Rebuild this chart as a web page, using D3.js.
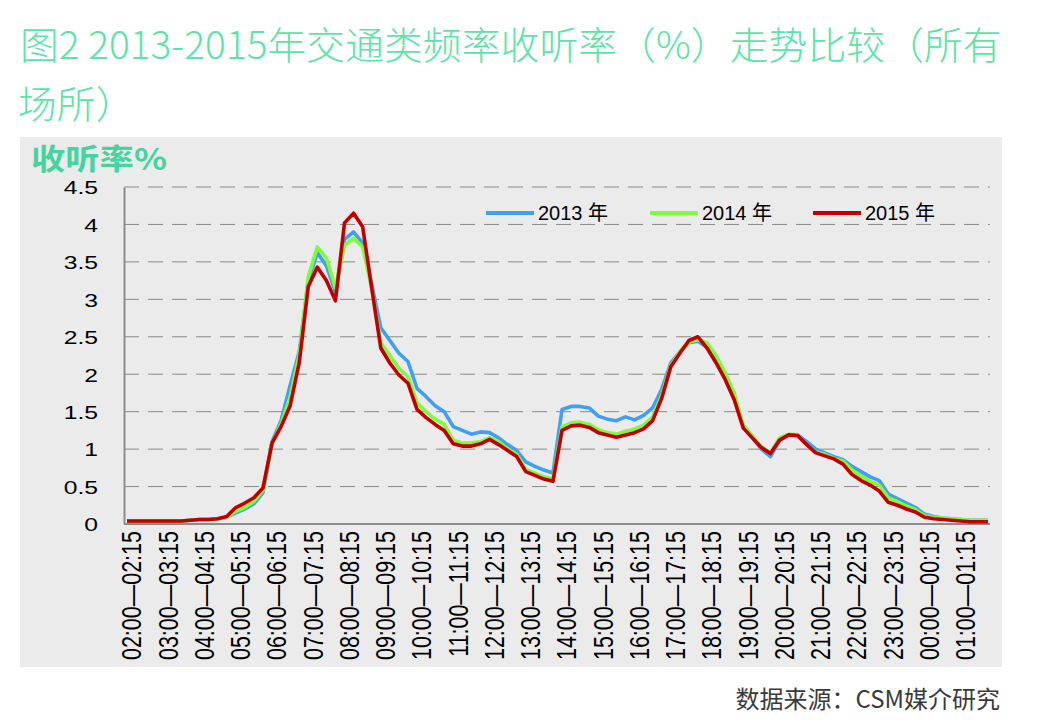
<!DOCTYPE html>
<html>
<head>
<meta charset="utf-8">
<script src="https://cdn.jsdelivr.net/npm/d3@7"></script>
<style>
  body { margin: 0; background: #fff; }
  svg { display: block; }
</style>
</head>
<body>
<script>
// hourly tick labels on the x axis
var tickLabels = ["02:00—02:15","03:00—03:15","04:00—04:15","05:00—05:15","06:00—06:15",
  "07:00—07:15","08:00—08:15","09:00—09:15","10:00—10:15","11:00—11:15","12:00—12:15",
  "13:00—13:15","14:00—14:15","15:00—15:15","16:00—16:15","17:00—17:15","18:00—18:15",
  "19:00—19:15","20:00—20:15","21:00—21:15","22:00—22:15","23:00—23:15","00:00—00:15",
  "01:00—01:15"];

// quarter-hour slots 02:00 ... 01:45
var hours = [2,3,4,5,6,7,8,9,10,11,12,13,14,15,16,17,18,19,20,21,22,23,0,1];
var quarters = ["00","15","30","45"];
var categories = [];
hours.forEach(function(h) {
  quarters.forEach(function(q) {
    categories.push((h < 10 ? "0" + h : "" + h) + ":" + q);
  });
});

var yTicks = [0, 0.5, 1, 1.5, 2, 2.5, 3, 3.5, 4, 4.5];

var seriesNames = ["2013 年", "2014 年", "2015 年"];
var seriesColors = ["#3f9ff2", "#80fb38", "#c00000"];

var v2013 = [
  0.04,0.04,0.04,0.04, 0.04,0.04,0.04,0.05, 0.06,0.06,0.07,0.09,
  0.15,0.20,0.27,0.42, 1.10,1.38,1.85,2.30, 3.25,3.62,3.45,3.10,
  3.80,3.90,3.75,3.20, 2.62,2.45,2.28,2.17, 1.81,1.70,1.58,1.50,
  1.30,1.25,1.20,1.23, 1.22,1.15,1.06,0.98, 0.83,0.77,0.72,0.68,
  1.53,1.57,1.57,1.55, 1.44,1.40,1.38,1.43, 1.39,1.45,1.55,1.80,
  2.15,2.30,2.42,2.44, 2.36,2.18,1.95,1.68, 1.30,1.15,1.00,0.90,
  1.12,1.19,1.19,1.10, 1.00,0.95,0.90,0.86, 0.77,0.70,0.63,0.58,
  0.40,0.34,0.28,0.22, 0.13,0.10,0.08,0.07, 0.06,0.05,0.05,0.05];

var v2014 = [
  0.04,0.04,0.04,0.04, 0.04,0.04,0.04,0.05, 0.06,0.06,0.07,0.09,
  0.17,0.22,0.30,0.45, 1.08,1.33,1.70,2.25, 3.30,3.70,3.55,3.15,
  3.72,3.82,3.70,3.15, 2.42,2.25,2.08,1.97, 1.62,1.50,1.40,1.33,
  1.12,1.08,1.08,1.10, 1.15,1.10,1.00,0.93, 0.73,0.68,0.63,0.60,
  1.30,1.35,1.36,1.33, 1.26,1.22,1.20,1.24, 1.27,1.32,1.43,1.72,
  2.12,2.30,2.43,2.46, 2.42,2.25,2.02,1.75, 1.32,1.18,1.03,0.95,
  1.15,1.20,1.19,1.06, 0.96,0.93,0.88,0.84, 0.72,0.64,0.57,0.52,
  0.35,0.30,0.24,0.19, 0.11,0.09,0.08,0.07, 0.06,0.05,0.05,0.05];

var v2015 = [
  0.04,0.04,0.04,0.04, 0.04,0.04,0.04,0.05, 0.06,0.06,0.07,0.10,
  0.22,0.28,0.35,0.48, 1.08,1.30,1.58,2.15, 3.17,3.43,3.25,2.98,
  4.02,4.15,3.97,3.15, 2.35,2.15,1.99,1.88, 1.53,1.42,1.33,1.25,
  1.07,1.04,1.04,1.07, 1.13,1.06,0.98,0.90, 0.70,0.65,0.60,0.57,
  1.25,1.31,1.32,1.29, 1.22,1.19,1.16,1.19, 1.22,1.27,1.38,1.68,
  2.10,2.28,2.45,2.50, 2.35,2.15,1.93,1.66, 1.28,1.15,1.02,0.94,
  1.12,1.19,1.18,1.06, 0.95,0.91,0.87,0.80, 0.66,0.58,0.52,0.44,
  0.29,0.25,0.20,0.16, 0.09,0.07,0.06,0.05, 0.04,0.03,0.03,0.03];

var seriesValues = [v2013, v2014, v2015];

var W = 1052, H = 728;
var plot = {left: 124, right: 990, top: 187, bottom: 524};
var cjk = "'Noto Sans CJK SC', 'Noto Sans', sans-serif";
var latin = "'Liberation Sans', Arial, 'Noto Sans CJK SC', sans-serif";

var svg = d3.select("body").append("svg")
    .attr("width", W)
    .attr("height", H);

// title, squeezed to the page width like the original
var titleG = svg.append("g").attr("font-family", cjk).attr("font-weight", 300)
    .attr("font-size", 38).attr("fill", "#5ce4a6");
var t1 = titleG.append("text").text("图2 2013-2015年交通类频率收听率（%）走势比较（所有");
var t2 = titleG.append("text").text("场所）");
var sx = 982 / t1.node().getComputedTextLength();
t1.attr("transform", "translate(20,59) scale(" + sx + ",1)");
t2.attr("transform", "translate(18,118) scale(" + sx + ",1)");

// grey chart panel
svg.append("rect")
    .attr("x", 20).attr("y", 137)
    .attr("width", 982).attr("height", 530)
    .attr("fill", "#ebebeb");

// y axis caption
var cap = svg.append("text")
    .attr("font-family", cjk).attr("font-weight", "bold")
    .attr("font-size", 29).attr("fill", "#45d4a0")
    .text("收听率%");
var capScale = 136 / cap.node().getComputedTextLength();
cap.attr("transform", "translate(31,170) scale(" + capScale + ",1)");

// scales
var x = d3.scalePoint()
    .domain(categories)
    .range([127, 988]);

var y = d3.scaleLinear()
    .domain([0, 4.5])
    .range([plot.bottom, plot.top]);

// dashed gridlines
svg.append("g").selectAll("line")
    .data(yTicks.filter(function(d) { return d > 0; }))
    .enter().append("line")
    .attr("x1", plot.left).attr("x2", plot.right)
    .attr("y1", function(d) { return y(d); })
    .attr("y2", function(d) { return y(d); })
    .attr("stroke", "#8a8a8a")
    .attr("stroke-width", 1)
    .attr("stroke-dasharray", "15,9");

// y axis
var yAxis = svg.append("g")
    .attr("transform", "translate(" + plot.left + ",0)")
    .call(d3.axisLeft(y).tickValues(yTicks).tickSize(0)
      .tickFormat(function(d) { return String(d); }));
yAxis.select(".domain").attr("stroke", "#8c8c8c").attr("stroke-width", 2);
yAxis.selectAll("text")
    .attr("x", null).attr("dy", "0.36em")
    .attr("font-family", latin).attr("font-size", 19).attr("fill", "#000")
    .attr("transform", "translate(-26,0) scale(1.3,1)");

// x axis
var xAxis = svg.append("g")
    .attr("transform", "translate(0," + plot.bottom + ")")
    .call(d3.axisBottom(x)
      .tickValues(categories.filter(function(d, i) { return i % 4 === 0; }))
      .tickSize(0)
      .tickFormat(function(d, i) { return tickLabels[i]; }));
xAxis.select(".domain").attr("d", "M" + plot.left + ",0H" + plot.right)
    .attr("stroke", "#8c8c8c").attr("stroke-width", 2);
xAxis.selectAll("text")
    .attr("y", null).attr("dy", "0.35em")
    .attr("text-anchor", "end")
    .attr("font-family", latin).attr("font-size", 21.5).attr("fill", "#000")
    .attr("transform", "translate(4,7) scale(1.3,1) rotate(-90)");

// series lines
var line = d3.line()
    .x(function(d, i) { return x(categories[i]); })
    .y(function(d) { return y(d); });

svg.append("g").selectAll("path")
    .data(seriesValues)
    .enter().append("path")
    .attr("d", line)
    .attr("fill", "none")
    .attr("stroke", function(d, i) { return seriesColors[i]; })
    .attr("stroke-width", 3.6)
    .attr("stroke-linejoin", "round");

// legend
var legendX = [486, 650, 813];
var legend = svg.append("g").selectAll("g")
    .data(seriesNames)
    .enter().append("g")
    .attr("transform", function(d, i) { return "translate(" + legendX[i] + ",213)"; });
legend.append("line")
    .attr("x1", 0).attr("x2", 48)
    .attr("stroke", function(d, i) { return seriesColors[i]; })
    .attr("stroke-width", 4);
legend.append("text")
    .attr("x", 52).attr("dy", "0.36em")
    .attr("font-family", latin).attr("font-size", 20).attr("fill", "#000")
    .text(function(d) { return d; });

// source note
svg.append("text")
    .attr("x", 1000).attr("y", 708)
    .attr("text-anchor", "end")
    .attr("font-family", cjk).attr("font-size", 24).attr("fill", "#3a3a3a")
    .text("数据来源：CSM媒介研究");
</script>
</body>
</html>
